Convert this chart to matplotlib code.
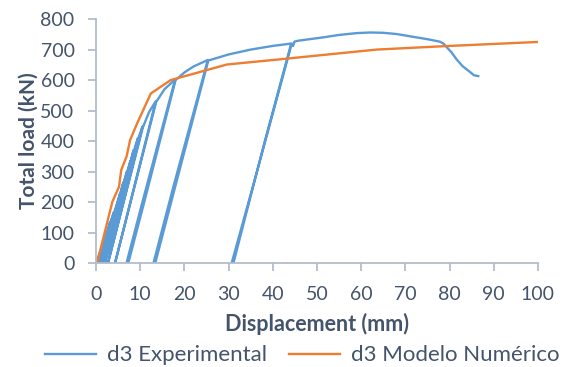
import matplotlib
matplotlib.use("Agg")
import matplotlib.pyplot as plt

plt.rcParams['font.family'] = ['Lato', 'DejaVu Sans']

# Ensaio d3: deslocamento (mm) e carga total (kN), com ciclos de descarga/recarga
exp_x = [0, 1.5, 0.3, 1.6, 2.5, 0.45, 2.6, 3.2, 0.55, 3.3, 4.0, 0.7, 4.1,
         5.5, 1.0, 5.6, 6.2, 1.1, 6.3, 7.0, 1.3, 7.1, 7.8, 1.5, 7.9,
         8.5, 1.8, 8.6, 9.5, 2.0, 9.6, 10.5, 2.7, 10.6, 12.0, 13.5, 4.3,
         13.6, 15.5, 17.9, 10.5, 6.9, 7.3, 11.0, 18.0, 20.0, 22.0, 25.3,
         17.5, 13.0, 13.4, 18.0, 25.4, 30.0, 35.0, 40.0, 44.3, 37.0, 30.7,
         31.1, 38.2, 44.1, 44.6, 44.9, 45.7, 51.4, 55.0, 59.0, 62.0, 65.0,
         68.0, 71.7, 75.0, 77.8, 78.6, 79.3, 80.5, 81.6, 83.0, 84.6, 85.5,
         86.5]
exp_y = [0, 60, 0, 60, 103, 0, 103, 135, 0, 135, 165, 0, 165,
         230, 0, 230, 265, 0, 265, 300, 0, 300, 335, 0, 335,
         370, 0, 370, 410, 0, 410, 447, 0, 445, 495, 530, 0,
         528, 570, 602, 200, 0, 0, 205, 600, 625, 644, 666,
         250, 0, 0, 255, 664, 684, 700, 712, 720, 330, 0,
         0, 400, 716, 712, 726, 729, 740, 748, 754, 756, 755,
         751, 742, 734, 726, 720, 709, 690, 668, 645, 627, 616,
         613]

# Modelo numérico
num_x = [0, 0.3, 3.7, 5.2, 5.7, 6.9, 7.7, 9.3, 12.4, 16.9, 29.6, 41.6, 63.5,
         78.6, 100]
num_y = [0, 4, 201, 250, 305, 349, 403, 458, 556, 600, 651, 668, 700,
         711, 725]

text_c = '#44546a'
axis_c = '#b4bccc'

fig = plt.figure(figsize=(5.65, 3.67), dpi=100)
ax = fig.add_axes([0.170, 0.2834, 0.782, 0.6646])

ax.plot(exp_x, exp_y, color='#5b9bd5', lw=1.7, label='d3 Experimental')
ax.plot(num_x, num_y, color='#ed7d31', lw=1.7, label='d3 Modelo Numérico')

ax.set_xlim(0, 100)
ax.set_ylim(0, 800)
ax.set_xticks(range(0, 101, 10))
ax.set_yticks(range(0, 801, 100))

for s in ['top', 'right']:
    ax.spines[s].set_visible(False)
for s in ['left', 'bottom']:
    ax.spines[s].set_color(axis_c)
    ax.spines[s].set_linewidth(1.3)

ax.tick_params(axis='both', colors=axis_c, labelcolor=text_c, labelsize=14,
               length=5.5, width=1.3)
ax.tick_params(axis='y', pad=10)
ax.tick_params(axis='x', pad=11)

ax.set_xlabel('Displacement (mm)', fontsize=15.5, fontweight='bold',
              color=text_c, labelpad=7)
ax.set_ylabel('Total load (kN)', fontsize=15, fontweight='bold',
              color=text_c, labelpad=1)

fig.legend(loc='lower center', bbox_to_anchor=(0.535, -0.05), ncol=2,
           frameon=False, fontsize=16, labelcolor=text_c, handlelength=2.3,
           columnspacing=1.0, handletextpad=0.5)

fig.savefig('out.png', dpi=100)
